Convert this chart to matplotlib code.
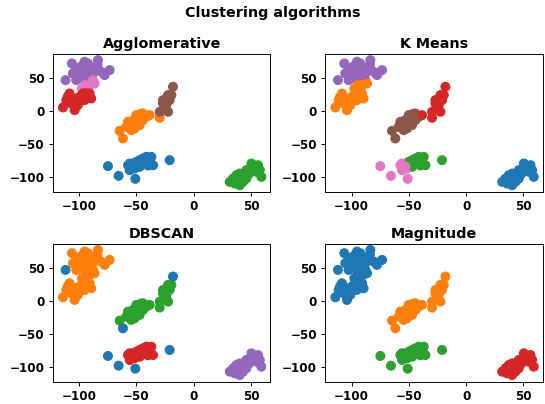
import matplotlib
matplotlib.use("Agg")
import matplotlib.pyplot as plt
import numpy as np

# point coordinates (same point set in every panel)
x = [
    # upper-left blob: top part
    -106.4, -102.6, -105.5, -111.9, -95.3, -92.4, -83.6, -99.7, -102.6, -95.3,
    -88.0, -80.7, -73.4, -77.8, -86.5, -90.9, -96.7, -93.8, -98.0, -90.0, -84.0,
    # upper-left blob: middle (pink in agglomerative)
    -88.0, -86.5, -97.6, -94.7, -90.3,
    # upper-left blob: lower part
    -108.4, -111.3, -114.2, -105.5, -104.0, -101.1, -96.7, -92.4, -89.5, -90.9,
    -99.7, -106.9, -102.6, -95.3, -100.0, -94.0, -110.0,
    # diagonal: lower-left part
    -64.7, -61.8, -58.9, -55.9, -53.0, -50.1, -47.2, -44.3, -41.4, -51.6,
    -54.5, -47.2, -38.5, -29.7, -57.4, -48.7, -44.3, -52.0, -46.0, -56.0, -50.0,
    # diagonal: upper-right part
    -29.7, -26.8, -25.3, -22.4, -21.0, -19.5, -18.1, -22.4, -26.8, -23.9,
    # lower middle
    -74.9, -65.6, -51.0, -21.0,
    -57.4, -55.9, -53.0, -50.1, -47.2, -44.3, -41.4, -37.0, -38.5, -35.5,
    -47.2, -51.6, -55.9, -42.8, -39.9, -48.7, -45.7, -50.0, -44.0, -40.0, -53.0,
    # lower right
    31.5, 34.4, 37.3, 40.2, 43.1, 40.2, 43.1, 46.0, 49.0, 50.4,
    53.3, 56.2, 57.7, 59.1, 54.8, 46.0, 38.8, 35.8, 48.0, 42.0,
]
y = [
    72.0, 64.4, 56.9, 46.8, 74.5, 72.0, 77.0, 54.4, 46.8, 61.9,
    56.9, 59.4, 61.9, 54.4, 64.4, 51.9, 49.3, 67.0, 68.0, 58.0, 70.0,
    46.8, 41.8, 34.2, 39.3, 39.3,
    26.7, 16.6, 5.5, 16.6, 1.5, 9.1, 26.7, 21.7, 19.1, 26.7,
    21.7, 11.6, 19.1, 16.6, 14.0, 27.0, 22.0,
    -29.7, -41.3, -23.7, -18.6, -13.6, -6.0, -11.1, -3.5, -8.6, -26.2,
    -28.7, -21.1, -6.0, -10.1, -16.1, -16.1, -13.6, -20.0, -4.0, -24.0, -12.0,
    -1.0, 11.6, 4.0, -1.0, 16.6, 24.2, 36.8, 24.2, 16.6, 9.1,
    -83.0, -97.7, -102.2, -74.0,
    -81.6, -89.1, -79.0, -76.5, -74.0, -71.5, -69.0, -69.0, -79.0, -81.6,
    -84.1, -86.6, -79.0, -79.0, -74.0, -81.6, -79.0, -80.0, -75.0, -82.0, -84.0,
    -106.7, -101.7, -96.7, -94.2, -99.2, -111.8, -106.7, -101.7, -89.1, -79.0,
    -84.1, -81.6, -89.1, -99.2, -91.6, -89.1, -104.2, -109.3, -95.0, -102.0,
]

# cluster labels per algorithm
agglo = ([4] * 21 + [6] * 5 + [3] * 17 + [1] * 21 + [5] * 10
         + [0] * 25 + [2] * 20)
kmeans = ([4] * 21 + [4] + [1] * 4 + [1] * 17
          + [5] * 12 + [3] + [3] + [5] * 7 + [3] * 10
          + [6, 6, 6, 2] + [6, 6, 6, 2, 2, 2, 2, 2, 2, 2,
                            2, 6, 6, 2, 2, 2, 2, 2, 2, 2, 6]
          + [0] * 20)
dbscan = ([1] * 3 + [0] + [1] * 17 + [1] * 5 + [1] * 17
          + [2, 0] + [2] * 19 + [2] * 6 + [0] + [2] * 3
          + [0, 0, 0, 0] + [3] * 21 + [4] * 20)
magnitude = [0] * 43 + [1] * 31 + [2] * 25 + [3] * 20

titles = ["Agglomerative", "K Means", "DBSCAN", "Magnitude"]
labels = [agglo, kmeans, dbscan, magnitude]

ticks = [-100, -50, 0, 50]
tick_labels = ["\u2212100", "\u221250", "0", "50"]

palette = plt.get_cmap("tab10").colors

dpi = 85.16
fig, axes = plt.subplots(2, 2, figsize=(545 / dpi, 404 / dpi), dpi=dpi)
fig.subplots_adjust(left=0.097, right=0.996, top=0.866, bottom=0.055,
                    wspace=0.252, hspace=0.377)
fig.suptitle("Clustering algorithms", fontsize=12, fontweight="bold", y=0.985)

for ax, title, lab in zip(axes.flat, titles, labels):
    cols = [palette[k] for k in lab]
    ax.scatter(x, y, c=cols, s=55)
    ax.set_title(title, fontsize=12, fontweight="bold", pad=5)
    ax.set_xlim(-123, 67)
    ax.set_ylim(-122, 86)
    ax.set_xticks(ticks, labels=tick_labels, fontweight="bold", fontsize=10)
    ax.set_yticks(ticks, labels=tick_labels, fontweight="bold", fontsize=10)

fig.savefig("out.png", dpi=dpi)
